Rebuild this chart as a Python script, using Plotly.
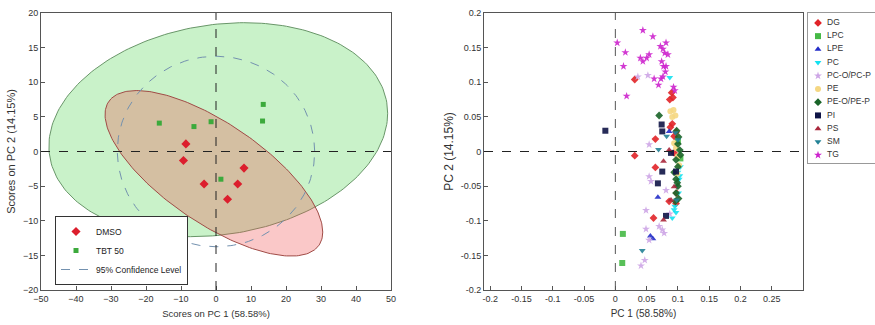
import numpy as np
import plotly.graph_objects as go

# ---------------- Left panel data (PCA scores) ----------------
dmso_x = [-8.6, -9.3, -3.4, 3.3, 6.2, 8.0]
dmso_y = [1.1, -1.3, -4.7, -6.9, -4.7, -2.4]
tbt_x = [-16.2, -6.3, -1.4, 1.4, 13.5, 13.3]
tbt_y = [4.1, 3.6, 4.3, -4.0, 6.8, 4.4]

# confidence ellipses: centre x, centre y, sd x, sd y, correlation
ell_tbt = [0.65, 3.15, 48.4, 15.45, 0.154]
ell_dmso = [-0.6, -3.15, 31.1, 11.95, -0.71]
ell_all = [0.0, 0.0, 28.2, 13.75, 0.0]

# ---------------- Right panel data (loadings by lipid class) ----------------
classes = ["DG", "LPC", "LPE", "PC", "PC-O/PC-P", "PE", "PE-O/PE-P", "PI", "PS", "SM", "TG"]
dg_x = [0.031, 0.031, 0.064, 0.064, 0.061, 0.087, 0.092, 0.091, 0.094, 0.097, 0.086, 0.097, 0.094, 0.090, 0.098, 0.088]
dg_y = [0.104, -0.006, 0.018, -0.023, -0.096, 0.075, 0.078, 0.040, 0.022, 0.028, -0.072, -0.075, -0.002, 0.085, -0.060, 0.035]
lpc_x = [0.012, 0.011, 0.100, 0.104]
lpc_y = [-0.119, -0.161, 0.015, -0.010]
lpe_x = [0.068, 0.056, 0.060, 0.086]
lpe_y = [-0.066, -0.122, -0.126, 0.029]
pc_x = [0.087, 0.094, 0.091, 0.100, 0.102, 0.104, 0.098, 0.101, 0.097, 0.095, 0.103]
pc_y = [0.107, -0.084, -0.096, -0.030, -0.040, -0.022, -0.050, -0.060, -0.088, -0.079, -0.035]
pco_x = [0.054, 0.054, 0.057, 0.049, 0.049, 0.054, 0.047, 0.041, 0.070, 0.075, 0.078, 0.081, 0.052, 0.036, 0.087]
pco_y = [0.010, -0.036, -0.043, -0.085, -0.112, -0.128, -0.157, -0.165, -0.108, -0.113, -0.118, -0.056, 0.110, 0.108, -0.090]
pe_x = [0.088, 0.093, 0.091, 0.096, 0.094, 0.100, 0.102, 0.097, 0.099]
pe_y = [0.058, 0.060, 0.050, 0.052, 0.012, -0.007, -0.020, 0.005, -0.032]
peo_x = [0.070, 0.098, 0.101, 0.100, 0.103, 0.097, 0.100, 0.094, 0.097, 0.100, 0.097, 0.101, 0.099, 0.104, 0.096]
peo_y = [0.052, 0.030, 0.021, 0.011, 0.002, -0.012, -0.022, -0.030, -0.040, -0.050, -0.060, -0.068, -0.045, -0.005, -0.072]
pi_x = [-0.016, 0.074, 0.075, 0.075, 0.068, 0.081, 0.089, 0.097]
pi_y = [0.030, 0.039, 0.029, -0.029, -0.046, -0.093, -0.002, -0.029]
ps_x = [0.086, 0.077, 0.077, 0.089, 0.094]
ps_y = [0.002, -0.014, -0.099, -0.070, -0.051]
sm_x = [0.043, 0.069, 0.082, 0.096, 0.100, 0.098]
sm_y = [-0.143, 0.003, 0.022, 0.027, 0.017, -0.070]
tg_x = [0.003, 0.016, 0.013, 0.018, 0.044, 0.060, 0.040, 0.044, 0.050, 0.054, 0.072, 0.076, 0.079,
        0.074, 0.077, 0.081, 0.073, 0.076, 0.069, 0.093, 0.095, 0.081, 0.062, 0.084, 0.080]
tg_y = [0.157, 0.143, 0.123, 0.080, 0.175, 0.166, 0.135, 0.130, 0.135, 0.140, 0.152, 0.148, 0.142,
        0.130, 0.123, 0.123, 0.105, 0.108, 0.096, 0.093, 0.088, 0.157, 0.105, 0.140, 0.115]

left_xticks = [-50, -40, -30, -20, -10, 0, 10, 20, 30, 40, 50]
left_yticks = [-20, -15, -10, -5, 0, 5, 10, 15, 20]
right_xticks = [-0.2, -0.15, -0.1, -0.05, 0, 0.05, 0.1, 0.15, 0.2, 0.25]
right_yticks = [-0.2, -0.15, -0.1, -0.05, 0, 0.05, 0.1, 0.15, 0.2]

series = [
    (dg_x, dg_y, "diamond", "rgb(225,35,40)"),
    (lpc_x, lpc_y, "square", "rgb(70,185,70)"),
    (lpe_x, lpe_y, "triangle-up", "rgb(35,45,200)"),
    (pc_x, pc_y, "triangle-down", "rgb(20,225,240)"),
    (pco_x, pco_y, "star", "rgb(205,165,230)"),
    (pe_x, pe_y, "circle", "rgb(245,215,130)"),
    (peo_x, peo_y, "diamond", "rgb(25,100,40)"),
    (pi_x, pi_y, "square", "rgb(15,20,70)"),
    (ps_x, ps_y, "triangle-up", "rgb(170,40,60)"),
    (sm_x, sm_y, "triangle-down", "rgb(35,130,150)"),
    (tg_x, tg_y, "star", "rgb(205,35,205)"),
]


def ellipse(p, n=240):
    cx, cy, sx, sy, rho = p
    t = np.linspace(0, 2 * np.pi, n)
    x = cx + sx * np.cos(t)
    y = cy + sy * (rho * np.cos(t) + np.sqrt(1 - rho ** 2) * np.sin(t))
    return x, y


FONT = "Liberation Sans, Arial, sans-serif"
fig = go.Figure()

ex, ey = ellipse(ell_tbt)
fig.add_trace(go.Scatter(x=ex, y=ey, mode="lines", fill="toself",
                         fillcolor="rgba(0,195,0,0.21)", line=dict(color="rgb(105,150,105)", width=1),
                         showlegend=False, hoverinfo="skip", xaxis="x", yaxis="y"))
ex, ey = ellipse(ell_dmso)
fig.add_trace(go.Scatter(x=ex, y=ey, mode="lines", fill="toself",
                         fillcolor="rgba(239,77,77,0.31)", line=dict(color="rgb(160,75,70)", width=1),
                         showlegend=False, hoverinfo="skip", xaxis="x", yaxis="y"))
fig.add_trace(go.Scatter(x=dmso_x, y=dmso_y, mode="markers", name="DMSO",
                         marker=dict(symbol="diamond", size=7, color="rgb(220,30,45)"),
                         legend="legend", xaxis="x", yaxis="y"))
fig.add_trace(go.Scatter(x=tbt_x, y=tbt_y, mode="markers", name="TBT 50",
                         marker=dict(symbol="square", size=5, color="rgb(60,170,60)"),
                         legend="legend", xaxis="x", yaxis="y"))
ex, ey = ellipse(ell_all)
fig.add_trace(go.Scatter(x=ex, y=ey, mode="lines", name="95% Confidence Level",
                         line=dict(color="rgb(115,145,175)", width=1, dash="dash"),
                         legend="legend", xaxis="x", yaxis="y"))

for (xs, ys, sym, col), name in zip(series, classes):
    fig.add_trace(go.Scatter(x=xs, y=ys, mode="markers", name=name,
                             marker=dict(symbol=sym, size=6, color=col, opacity=0.9),
                             showlegend=False, xaxis="x2", yaxis="y2"))

# compact key for the lipid classes (one row per class, in a small framed panel)
key_rows = list(range(len(classes)))
fig.add_trace(go.Scatter(x=[0] * len(classes), y=key_rows, mode="markers",
                         marker=dict(symbol=[s[2] for s in series], size=6,
                                     color=[s[3] for s in series]),
                         showlegend=False, hoverinfo="skip", xaxis="x3", yaxis="y3"))
fig.add_trace(go.Scatter(x=[9] * len(classes), y=key_rows, mode="text", text=classes,
                         textposition="middle right",
                         textfont=dict(size=8.5, color="#333", family=FONT),
                         showlegend=False, hoverinfo="skip", xaxis="x3", yaxis="y3",
                         cliponaxis=False))

W, H = 875, 325
axis_common = dict(showline=True, mirror=True, linecolor="#555", linewidth=1,
                   ticks="inside", ticklen=4, tickcolor="#555", showgrid=False,
                   zeroline=False, tickfont=dict(size=9, color="#333", family=FONT))

fig.update_layout(
    width=W, height=H,
    margin=dict(l=0, r=0, t=0, b=0, autoexpand=False),
    paper_bgcolor="white", plot_bgcolor="white",
    font=dict(family=FONT, color="#333"),
    xaxis=dict(domain=[41 / W, 391 / W], range=[-50, 50], tickvals=left_xticks,
               title=dict(text="Scores on PC 1 (58.58%)", font=dict(size=9.5), standoff=7),
               anchor="y", **axis_common),
    yaxis=dict(domain=[1 - 290 / H, 1 - 13 / H], range=[-20, 20], tickvals=left_yticks,
               title=dict(text="Scores on PC 2 (14.15%)", font=dict(size=11), standoff=5),
               anchor="x", **axis_common),
    xaxis2=dict(domain=[484 / W, 803 / W], range=[-0.21, 0.3], tickvals=right_xticks,
                ticktext=[f"{v:g}" for v in right_xticks],
                title=dict(text="PC 1 (58.58%)", font=dict(size=10), standoff=7),
                anchor="y2", **axis_common),
    yaxis2=dict(domain=[1 - 290 / H, 1 - 13 / H], range=[-0.2, 0.2], tickvals=right_yticks,
                ticktext=[f"{v:g}" for v in right_yticks],
                title=dict(text="PC 2 (14.15%)", font=dict(size=12), standoff=4),
                anchor="x2", **axis_common),
    xaxis3=dict(domain=[808 / W, 1.0], range=[-10, 57], showline=True, mirror=True,
                linecolor="#999", showticklabels=False, ticks="", showgrid=False,
                zeroline=False, fixedrange=True, anchor="y3"),
    yaxis3=dict(domain=[1 - 163 / H, 1 - 13 / H], range=[10.6, -0.75], showline=True,
                mirror=True, linecolor="#999", showticklabels=False, ticks="",
                showgrid=False, zeroline=False, fixedrange=True, anchor="x3"),
    legend=dict(x=55 / W, y=1 - 285 / H, xanchor="left", yanchor="bottom",
                bgcolor="white", bordercolor="#333", borderwidth=1,
                font=dict(size=8.5, family=FONT, color="#222"), itemwidth=30,
                tracegroupgap=0),
    shapes=[
        dict(type="line", xref="x", yref="y domain", x0=0, x1=0, y0=0, y1=1,
             line=dict(color="#222", width=1, dash="dash")),
        dict(type="line", xref="x domain", yref="y", x0=0, x1=1, y0=0, y1=0,
             line=dict(color="#222", width=1, dash="dash")),
        dict(type="line", xref="x2", yref="y2 domain", x0=0, x1=0, y0=0, y1=1,
             line=dict(color="#555", width=1, dash="dash")),
        dict(type="line", xref="x2 domain", yref="y2", x0=0, x1=1, y0=0, y1=0,
             line=dict(color="#222", width=1, dash="dash")),
    ],
)

fig.write_html("out.html")
